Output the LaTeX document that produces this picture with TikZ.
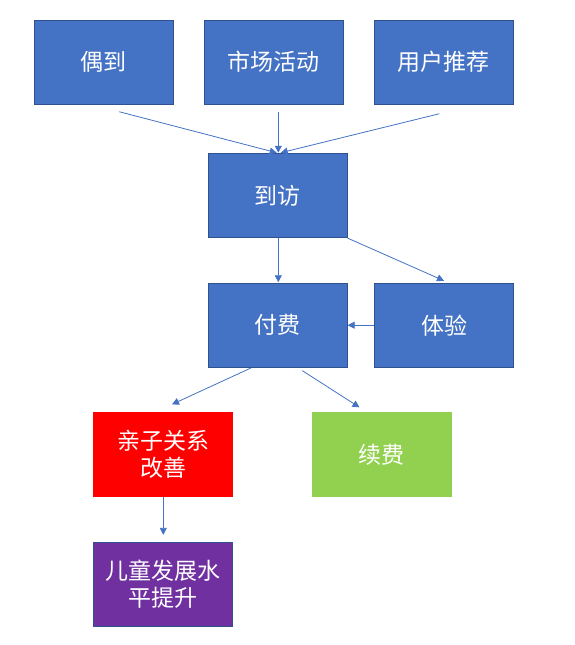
\documentclass[tikz,border=0pt]{standalone}
\usepackage{fontspec}
\newfontfamily\cjk{Noto Sans CJK SC}
\usetikzlibrary{arrows.meta,calc}
\definecolor{boxblue}{HTML}{4472C4}
\definecolor{edgeblue}{HTML}{2F528F}
\definecolor{boxred}{HTML}{FF0000}
\definecolor{boxgreen}{HTML}{92D050}
\definecolor{boxpurple}{HTML}{7030A0}
\tikzset{
  box/.style={draw=edgeblue, line width=0.9pt, fill=boxblue, minimum width=139pt, minimum height=84pt,
    inner sep=0pt, text=white, align=center, font=\cjk\fontsize{23}{27}\selectfont},
  conn/.style={draw=boxblue, line width=0.8pt, -{Triangle[length=7pt,width=7pt]}}
}
\begin{document}
\begin{tikzpicture}[x=1pt,y=-1pt]
\useasboundingbox (0,0) rectangle (575,645);
\node[box] (a) at (103.8,62) {偶到};
\node[box] (b) at (273.8,62) {市场活动};
\node[box] (c) at (443.8,62) {用户推荐};
\node[box] (d) at (277.7,195.7) {到访};
\node[box] (e) at (277.7,325.2) {付费};
\node[box] (f) at (444,325.2) {体验};
\node[box, fill=boxred, draw=boxred] (g) at (163,454.3) {亲子关系\\改善};
\node[box, fill=boxgreen, draw=boxgreen] (h) at (381.5,454.3) {续费};
\node[box, fill=boxpurple] (i) at (163.3,584.3) {儿童发展水\\平提升};
\draw[conn] ($(a.south)+(15.5,7.3)$) -- ($(d.north)+(-1,-0.5)$);
\draw[conn] ($(b.south -| d.north)+(0.6,7.7)$) -- ($(d.north)+(0.6,-0.5)$);
\draw[conn] ($(c.south)+(-4.5,9.3)$) -- ($(d.north)+(3,-0.5)$);
\draw[conn] ($(d.south)+(0.6,0)$) -- ($(e.north)+(0.6,-0.5)$);
\draw[conn] (d.south east) -- ($(f.north)+(0,-2)$);
\draw[conn] (f.west) -- (e.east);
\draw[conn] ($(e.south)+(-26.7,0.3)$) -- ($(g.north)+(9,-7.5)$);
\draw[conn] ($(e.south)+(24.6,3)$) -- ($(h.north)+(-22,-4.5)$);
\draw[conn] ($(g.south)+(0.3,0.5)$) -- ($(i.north)+(0,-7)$);
\end{tikzpicture}
\end{document}
